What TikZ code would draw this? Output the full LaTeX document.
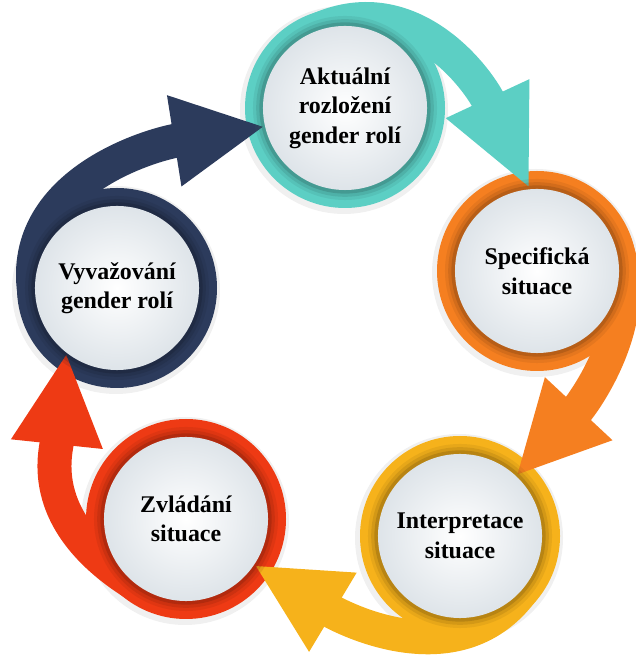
\documentclass[tikz,border=0pt]{standalone}
\usepackage{fontspec}
\setmainfont{Liberation Serif}
\usepackage{tikz}
\usetikzlibrary{arrows.meta}
\pgfdeclarelayer{back}
\pgfsetlayers{back,main}
\definecolor{tealc}{RGB}{92,207,196}
\definecolor{orangec}{RGB}{245,127,32}
\definecolor{yellowc}{RGB}{246,178,27}
\definecolor{redc}{RGB}{238,58,20}
\definecolor{navyc}{RGB}{44,59,92}
\definecolor{discgray}{RGB}{222,228,233}

\begin{document}
\begin{tikzpicture}[x=0.025cm,y=0.025cm]
    \tikzset{
    disc/.style={circle,minimum size=4.1cm,inner sep=0pt,outer sep=0pt,
        preaction={draw=#1!50!black,line width=0.5cm,opacity=0.12},
        preaction={draw=#1!50!black,line width=0.34cm,opacity=0.18},
        preaction={draw=#1!50!black,line width=0.18cm,opacity=0.3},
        inner color=white,outer color=discgray,
        font=\fontsize{17}{21}\selectfont\bfseries,align=center},
    band/.style={#1,line width=0.85cm,-{Triangle[length=2.3cm,width=2.125cm]}},
    }
    \useasboundingbox (0,0) rectangle (635,661);

    \node[disc=tealc] (n1) at (345,553) {Aktuální\\rozložení\\gender rolí};
    \node[disc=orangec] (n2) at (537,390) {Specifická\\situace};
    \node[disc=yellowc] (n3) at (460,125) {Interpretace\\situace};
    \node[disc=redc] (n4) at (186,142) {Zvládání\\situace};
    \node[disc=navyc] (n5) at (117,373) {Vyvažování\\gender rolí};

    \begin{pgfonlayer}{back}
    \foreach \n/\c in {n1/tealc,n2/orangec,n3/yellowc,n4/redc,n5/navyc}{
        \fill[black!6] (\n) ++(-1,-2) circle[radius=104];
        \fill[\c] (\n) circle[radius=100];
    }
    \draw[band=tealc,-{Triangle[length=2.5cm,width=2.1cm]}] (n1.120) .. controls +(30:115) and +(115:125) .. (n2.95);
    \draw[band=orangec] (n2.30) .. controls +(-60:90) and +(47:100) .. (n3.47);
    \draw[band=yellowc] (n3.-30) .. controls +(-120:120) and +(-31:110) .. (n4.-34);
    \draw[band=redc] (n4.240) .. controls +(150:130) and +(-96:100) .. (n5.232);
    \draw[band=navyc] (n5.195) .. controls +(105:125) and +(189:120) .. (n1.193);
    \end{pgfonlayer}
\end{tikzpicture}
\end{document}
